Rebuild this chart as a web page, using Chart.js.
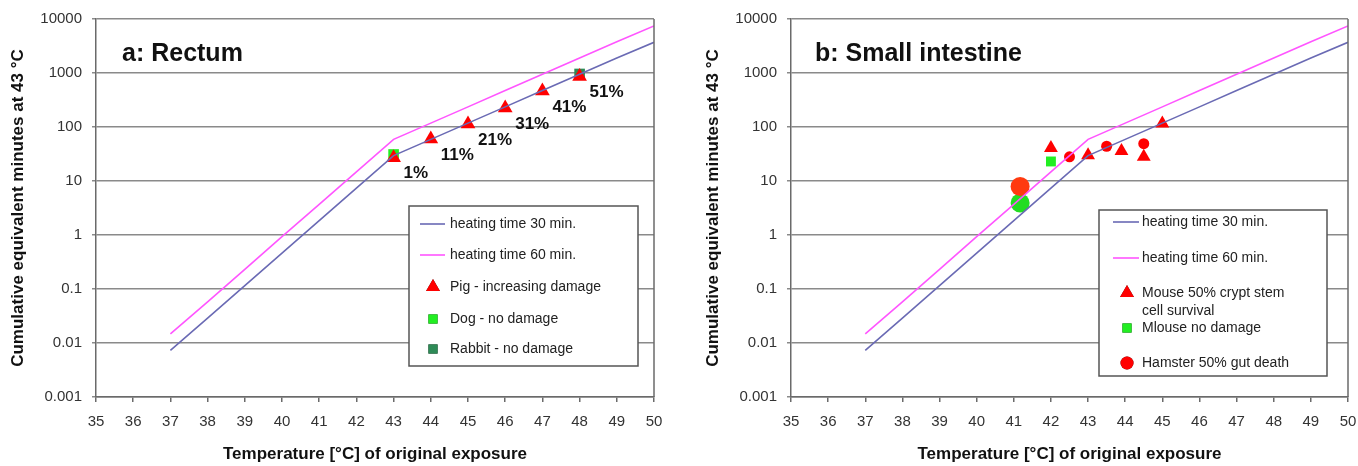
<!DOCTYPE html>
<html>
<head>
<meta charset="utf-8">
<script src="https://cdn.jsdelivr.net/npm/chart.js@4.4.1/dist/chart.umd.min.js"></script>
<style>
  body { margin: 0; background: #fff; }
  .wrap { position: relative; width: 1358px; height: 466px; }
  canvas { position: absolute; top: 0; }
</style>
</head>
<body>
<div class="wrap">
  <canvas id="rectum" width="679" height="466" style="left:0"></canvas>
  <canvas id="intestine" width="679" height="466" style="left:679px"></canvas>
</div>
<script>
// shared curves
const temps = [37, 38, 39, 40, 41, 42, 43, 44, 45, 46, 47, 48, 49, 50];
const heat30 = [0.0073, 0.029, 0.115, 0.46, 1.85, 7.4, 29.5, 59, 118, 236, 472, 944, 1890, 3700];
const heat60 = [0.0147, 0.058, 0.23, 0.93, 3.7, 14.8, 59, 118, 236, 472, 944, 1890, 3780, 7450];
const yTicks = [0.001, 0.01, 0.1, 1, 10, 100, 1000, 10000];

// a: rectum
const pigT = [43, 44, 45, 46, 47, 48];
const pigV = [27, 60, 114, 225, 464, 860];
const pigLabels = ['1%', '11%', '21%', '31%', '41%', '51%'];
const dogT = [43];
const dogV = [31];
const rabbitT = [48];
const rabbitV = [960];

// b: small intestine
const mouseT = [42, 43, 43.9, 44.5, 45];
const mouseV = [41, 30, 36, 28, 116];
const mouseOkT = [42];
const mouseOkV = [23];
const hamsterT = [42.5, 43.5, 44.5];
const hamsterV = [28, 44, 49];
const bigRedT = [41.17];
const bigRedV = [7.9];
const bigGreenT = [41.17];
const bigGreenV = [3.9];

const pts = (xs, ys) => xs.map((x, i) => ({ x: x, y: ys[i] }));

const BLUE = '#6a6ab4';
const PINK = '#ff55ff';
const GRID = '#8a8a8a';
const AXIS = '#6a6a6a';
const TXT = '#222';

function lineSet(label, data, color) {
  return { label: label, data: data, showLine: true, borderColor: color, borderWidth: 1.6,
    pointRadius: 0, pointHoverRadius: 0, fill: false, tension: 0 };
}
function markSet(label, data, style, color, r) {
  return { label: label, data: data, showLine: false, pointStyle: style, pointRadius: r,
    pointHoverRadius: r, backgroundColor: color, borderColor: color, borderWidth: 0 };
}

// right frame line
const framePlugin = {
  id: 'frame',
  afterDraw(chart) {
    const a = chart.chartArea, ctx = chart.ctx;
    ctx.save();
    ctx.strokeStyle = AXIS;
    ctx.lineWidth = 1.5;
    ctx.beginPath();
    ctx.moveTo(a.right, a.top);
    ctx.lineTo(a.right, a.bottom);
    ctx.stroke();
    ctx.restore();
  }
};

// panel title + percent labels
const notesPlugin = {
  id: 'notes',
  afterDatasetsDraw(chart, args, opts) {
    const ctx = chart.ctx, a = chart.chartArea;
    ctx.save();
    ctx.fillStyle = '#111';
    ctx.font = 'bold 25px "Liberation Sans", Arial, sans-serif';
    ctx.textBaseline = 'middle';
    ctx.textAlign = 'left';
    ctx.fillText(opts.title, a.left + opts.titleDx, a.top + 35);
    if (opts.pct) {
      const xs = chart.scales.x, ys = chart.scales.y;
      ctx.font = 'bold 17px "Liberation Sans", Arial, sans-serif';
      pigLabels.forEach((t, i) => {
        ctx.fillText(t, xs.getPixelForValue(pigT[i]) + 10, ys.getPixelForValue(pigV[i]) + 16);
      });
    }
    ctx.restore();
  }
};

// boxed legend inside the plot
const boxLegend = {
  id: 'boxLegend',
  afterDraw(chart, args, opts) {
    const ctx = chart.ctx, a = chart.chartArea;
    const bx = a.left + opts.dx, by = a.top + opts.dy;
    ctx.save();
    ctx.fillStyle = '#fff';
    ctx.fillRect(bx, by, opts.w, opts.h);
    ctx.strokeStyle = '#555';
    ctx.lineWidth = 1.5;
    ctx.strokeRect(bx, by, opts.w, opts.h);
    ctx.font = '14px "Liberation Sans", Arial, sans-serif';
    ctx.textBaseline = 'middle';
    ctx.textAlign = 'left';
    opts.rows.forEach((row, i) => {
      const ds = chart.data.datasets[i];
      const y = by + row;
      if (ds.showLine) {
        ctx.strokeStyle = ds.borderColor;
        ctx.lineWidth = 1.6;
        ctx.beginPath();
        ctx.moveTo(bx + opts.lineX[0], y);
        ctx.lineTo(bx + opts.lineX[1], y);
        ctx.stroke();
      } else {
        Chart.helpers.drawPoint(ctx, {
          pointStyle: ds.pointStyle, radius: ds.pointStyle === 'triangle' ? 8 : 6.5,
          borderWidth: 0, rotation: 0
        }, bx + opts.markX, y);
        ctx.fillStyle = ds.backgroundColor;
        ctx.fill();
      }
      ctx.fillStyle = TXT;
      String(ds.label).split('\n').forEach((ln, k) => {
        ctx.fillText(ln, bx + opts.textX, y + k * 18);
      });
    });
    ctx.restore();
  }
};

function buildOptions(cfg) {
  return {
    responsive: false,
    animation: false,
    layout: { padding: { left: 0, right: cfg.padRight, top: 17, bottom: 0 } },
    plugins: {
      legend: { display: false },
      tooltip: { enabled: false },
      notes: { title: cfg.title, titleDx: cfg.titleDx, pct: cfg.pct },
      boxLegend: cfg.legend
    },
    scales: {
      x: {
        type: 'linear', min: 35, max: 50,
        afterFit(s) { s.height = 69; s.paddingLeft = 0; s.paddingRight = 0; },
        ticks: { stepSize: 1, padding: 11, color: '#333',
          font: { family: '"Liberation Sans", Arial, sans-serif', size: 15 } },
        grid: { drawOnChartArea: false, drawTicks: true, tickLength: 5, color: AXIS, lineWidth: 1.5 },
        border: { color: AXIS, width: 1.5 },
        title: { display: true, text: 'Temperature [°C] of original exposure', color: '#111',
          padding: 1, font: { family: '"Liberation Sans", Arial, sans-serif', size: 17, weight: 'bold' } }
      },
      y: {
        type: 'logarithmic', min: 0.001, max: 10000,
        afterFit(s) { s.width = cfg.axisW; },
        afterBuildTicks(s) { s.ticks = yTicks.map(v => ({ value: v })); },
        ticks: { padding: 10, color: '#333', autoSkip: false,
          callback: v => String(v),
          font: { family: '"Liberation Sans", Arial, sans-serif', size: 15 } },
        grid: { color: GRID, lineWidth: 1.5, tickLength: 4 },
        border: { color: AXIS, width: 1.5 },
        title: { display: true, text: 'Cumulative equivalent minutes at 43 °C', color: '#111',
          padding: cfg.titlePad, font: { family: '"Liberation Sans", Arial, sans-serif', size: 17, weight: 'bold' } }
      }
    }
  };
}

new Chart(document.getElementById('rectum'), {
  type: 'scatter',
  data: {
    datasets: [
      lineSet('heating time 30 min.', pts(temps, heat30), BLUE),
      lineSet('heating time 60 min.', pts(temps, heat60), PINK),
      markSet('Pig - increasing damage', pts(pigT, pigV), 'triangle', '#ff0000', 8.5),
      markSet('Dog - no damage', pts(dogT, dogV), 'rect', '#22ee22', 7.5),
      markSet('Rabbit - no damage', pts(rabbitT, rabbitV), 'rect', '#2e8b57', 7.5)
    ]
  },
  options: buildOptions({
    padRight: 25, axisW: 96, titlePad: 8, title: 'a: Rectum', titleDx: 26, pct: true,
    legend: { dx: 313, dy: 187, w: 229, h: 160, rows: [18, 49, 81, 113, 143],
      lineX: [11, 36], markX: 24, textX: 41 }
  }),
  plugins: [framePlugin, notesPlugin, boxLegend]
});

new Chart(document.getElementById('intestine'), {
  type: 'scatter',
  data: {
    datasets: [
      lineSet('heating time 30 min.', pts(temps, heat30), BLUE),
      lineSet('heating time 60 min.', pts(temps, heat60), PINK),
      markSet('Mouse 50% crypt stem\ncell survival', pts(mouseT, mouseV), 'triangle', '#ff0000', 8),
      markSet('Mlouse no damage', pts(mouseOkT, mouseOkV), 'rect', '#22ee22', 7),
      markSet('Hamster 50% gut death', pts(hamsterT, hamsterV), 'circle', '#ff0000', 5.5),
      markSet('', pts(bigRedT, bigRedV), 'circle', '#ff3a10', 9.5),
      markSet('', pts(bigGreenT, bigGreenV), 'circle', '#22dd22', 9.5)
    ]
  },
  options: buildOptions({
    padRight: 10, axisW: 112, titlePad: 24, title: 'b: Small intestine', titleDx: 24, pct: false,
    legend: { dx: 308, dy: 191, w: 228, h: 166, rows: [12, 48, 83, 118, 153],
      lineX: [14, 40], markX: 28, textX: 43 }
  }),
  plugins: [framePlugin, notesPlugin, boxLegend]
});
</script>
</body>
</html>
